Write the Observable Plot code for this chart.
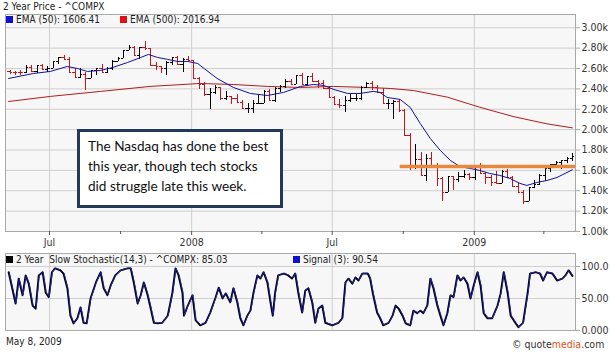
<!DOCTYPE html>
<html><head><meta charset="utf-8">
<script src="https://cdn.jsdelivr.net/npm/d3@7"></script>
<script src="https://cdn.jsdelivr.net/npm/@observablehq/plot@0.6"></script>
<style>
body{margin:0;background:#fff;}
#wrap{position:relative;width:610px;height:355px;overflow:hidden;font-family:"DejaVu Sans Condensed","DejaVu Sans",sans-serif;font-size:10px;color:#222;}
.abs{position:absolute;white-space:nowrap;line-height:12px;}
.sq{display:inline-block;width:7px;height:7px;margin-right:3px;vertical-align:0px;}
#note{position:absolute;left:77px;top:129px;border:3px solid #22395c;background:#fff;white-space:nowrap;
 font-family:Lato,"Open Sans",sans-serif;font-size:13.6px;line-height:20px;color:#111;padding:4px 0 0 8px;box-sizing:border-box;width:206px;height:79px;}
</style></head><body><div id="wrap"></div>
<script>
// ---------- data ----------
const firstWeek = "2007-05-11"; // weekly bars, one per week to 2009-05-08
const opens = [2572,2562,2558,2557,2613,2573,2626,2588,2603,2666,2707,2688,2562,2511,2544,2505,2576,2596,2565,2602,2671,2701,2780,2805,2726,2804,2795,2627,2618,2596,2661,2706,2636,2691,
 2674,2504,2440,2340,2360,2413,2304,2321,2303,2271,2212,2212,2258,2261,2370,2290,2403,2423,2476,2445,2528,2444,2523,2474,2454,2406,2316,2245,2239,2283,2310,2310,2414,2453,2415,2368,2255,2261,2273,2183,1947,1649,1711,1552,1721,1647,1516,1384,1536,1509,1540,1564,
 1530,1632,1571,1530,1477,1476,1591,1534,1441,1378,1293,1431,1457,1545,1622,1653,1673,1694,1719];
const highs = [2585,2568,2582,2626,2627,2630,2643,2620,2672,2712,2724,2710,2600,2600,2560,2580,2600,2640,2610,2680,2710,2780,2830,2820,2810,2861,2800,2660,2620,2670,2710,2720,2700,2720,
 2680,2510,2460,2400,2430,2415,2370,2330,2345,2290,2260,2290,2340,2380,2390,2410,2430,2490,2490,2530,2551,2525,2550,2480,2480,2420,2330,2300,2330,2340,2340,2420,2460,2470,2430,2400,2300,2290,2300,2200,1960,1850,1780,1760,1780,1670,1530,1540,1540,1580,1600,1570,
 1635,1670,1580,1550,1590,1600,1610,1540,1470,1400,1435,1500,1560,1625,1660,1690,1700,1730,1770];
const lows = [2540,2530,2535,2555,2560,2550,2588,2560,2600,2640,2680,2560,2508,2500,2386,2500,2530,2560,2550,2580,2670,2700,2775,2720,2690,2780,2620,2580,2550,2530,2630,2630,2560,2670,
 2500,2390,2330,2202,2340,2290,2290,2250,2270,2200,2160,2155,2250,2260,2280,2270,2360,2400,2430,2440,2440,2430,2460,2400,2400,2310,2240,2210,2167,2270,2280,2290,2400,2380,2360,2250,2200,2100,2170,1940,1595,1610,1540,1490,1620,1440,1295,1380,1400,1480,1520,1500,
 1500,1570,1460,1440,1470,1470,1520,1440,1370,1265,1290,1420,1450,1490,1580,1620,1610,1670,1690];
const closes = [2562,2558,2557,2613,2573,2626,2588,2603,2666,2707,2688,2562,2511,2544,2505,2576,2596,2565,2602,2671,2701,2780,2805,2726,2804,2795,2627,2618,2596,2661,2706,2636,2691,2674,
 2504,2440,2340,2360,2413,2304,2321,2303,2271,2212,2212,2258,2261,2370,2290,2403,2423,2476,2445,2528,2444,2523,2474,2454,2406,2316,2245,2239,2283,2310,2310,2414,2453,2415,2368,2255,2261,2273,2183,1947,1649,1711,1552,1721,1647,1516,1384,1536,1509,1540,1564,1530,
 1632,1571,1530,1477,1476,1591,1534,1441,1378,1293,1431,1457,1545,1622,1653,1673,1694,1719,1739];

const ema50Dates = ["2007-05-09","2007-06-10","2007-07-02","2007-07-24","2007-08-06","2007-08-19","2007-09-05","2007-09-21","2007-10-10","2007-10-27","2007-11-06","2007-11-18","2007-12-01","2007-12-14","2007-12-27","2008-01-09","2008-01-12","2008-02-03","2008-02-24","2008-03-17","2008-04-08","2008-04-29","2008-05-21","2008-06-07","2008-06-20","2008-07-03","2008-07-21","2008-08-06","2008-08-23","2008-09-01","2008-09-10","2008-09-27","2008-10-10","2008-10-23","2008-11-05","2008-11-18","2008-12-01","2008-12-14","2008-12-27","2009-01-08","2009-01-21","2009-02-03","2009-02-16","2009-03-01","2009-03-10","2009-03-23","2009-04-05","2009-04-18","2009-05-08"];
const ema50 = [2502,2551,2571,2620,2600,2571,2581,2610,2659,2708,2738,2708,2689,2669,2669,2649,2630,2502,2414,2355,2335,2365,2424,2443,2434,2394,2355,2355,2375,2365,2316,2296,2218,2060,1913,1795,1697,1635,1619,1599,1570,1550,1521,1472,1452,1481,1501,1530,1606];

const ema500Dates = ["2007-05-09","2007-07-02","2007-09-05","2007-11-08","2008-01-12","2008-02-24","2008-04-08","2008-05-21","2008-07-03","2008-08-15","2008-09-14","2008-10-14","2008-11-27","2009-01-08","2009-02-20","2009-04-05","2009-05-08"];
const ema500 = [2276,2326,2375,2424,2453,2443,2424,2414,2424,2414,2404,2384,2319,2220,2129,2057,2017];

const stochDates = ["2007-05-09","2007-05-18","2007-05-22","2007-05-27","2007-05-31","2007-06-04","2007-06-09","2007-06-13","2007-06-17","2007-06-22","2007-06-26","2007-06-30","2007-07-04","2007-07-08","2007-07-15","2007-07-19","2007-07-24","2007-07-28","2007-08-01","2007-08-06","2007-08-10","2007-08-14","2007-08-18","2007-08-23","2007-08-30","2007-09-05","2007-09-09","2007-09-14","2007-09-18","2007-09-24","2007-10-01","2007-10-10","2007-10-14","2007-10-18","2007-10-23","2007-10-27","2007-10-31","2007-11-05","2007-11-09","2007-11-13","2007-11-18","2007-11-24","2007-12-01","2007-12-07","2007-12-11","2007-12-15","2007-12-20","2007-12-22","2007-12-27","2008-01-02","2008-01-06","2008-01-12","2008-01-19","2008-01-25","2008-02-01","2008-02-05","2008-02-10","2008-02-14","2008-02-20","2008-02-24","2008-02-29","2008-03-04","2008-03-08","2008-03-13","2008-03-17","2008-03-21","2008-03-26","2008-03-30","2008-04-03","2008-04-08","2008-04-12","2008-04-15","2008-04-18","2008-04-22","2008-04-29","2008-05-05","2008-05-10","2008-05-14","2008-05-18","2008-05-23","2008-05-27","2008-05-31","2008-06-05","2008-06-09","2008-06-13","2008-06-18","2008-06-22","2008-07-01","2008-07-09","2008-07-14","2008-07-18","2008-07-22","2008-07-27","2008-07-31","2008-08-04","2008-08-09","2008-08-16","2008-08-19","2008-08-23","2008-08-28","2008-09-01","2008-09-05","2008-09-12","2008-09-17","2008-09-21","2008-09-25","2008-09-30","2008-10-04","2008-10-10","2008-10-14","2008-10-19","2008-10-23","2008-10-27","2008-11-01","2008-11-05","2008-11-09","2008-11-14","2008-11-18","2008-11-22","2008-11-27","2008-12-01","2008-12-05","2008-12-10","2008-12-14","2008-12-18","2008-12-23","2008-12-27","2008-12-31","2009-01-05","2009-01-09","2009-01-13","2009-01-18","2009-01-24","2009-01-31","2009-02-04","2009-02-08","2009-02-13","2009-02-17","2009-02-23","2009-02-27","2009-03-05","2009-03-11","2009-03-14","2009-03-21","2009-03-27","2009-03-31","2009-04-05","2009-04-12","2009-04-18","2009-04-25","2009-04-29","2009-05-03","2009-05-08"];
const stoch = [91,42,81,55,86,73,39,34,86,91,59,52,91,97,94,89,66,23,11,19,36,12,11,50,75,91,66,55,70,86,94,97,97,75,42,55,75,55,34,12,11,12,23,59,97,86,59,23,39,55,16,8,12,28,52,67,50,58,44,66,44,19,8,23,31,59,86,81,91,75,44,23,59,86,89,86,81,89,59,28,62,66,44,12,34,39,12,8,12,19,75,81,73,83,78,89,89,81,55,28,19,8,12,23,39,34,23,11,8,31,27,31,27,39,81,66,39,23,8,27,55,52,86,78,83,73,50,70,91,70,27,19,19,39,58,91,59,23,12,5,12,59,89,91,89,78,91,89,78,81,86,94,85];

const priceTicks = [1000,1200,1400,1600,1800,2000,2200,2400,2600,2800,3000];
const stochTicks = [0,50,100];
const stochTickLabels = ["0.000","50.00","100.0"];
const majorTickDates = ["2007-07-01","2008-01-01","2008-07-01","2009-01-01"];
const majorTickLabels = ["Jul","2008","Jul","2009"];
const minorTickDates = ["2007-10-01","2008-04-01","2008-10-01","2009-04-01"];
const xDomain = ["2007-05-05","2009-05-12"];
const resistanceLevel = 1637;
const resistanceFrom = "2008-09-27";

// ---------- build ----------
const P = s => new Date(s + "T00:00:00Z");
const week0 = P(firstWeek);
const bars = closes.map((c, i) => ({date: d3.utcDay.offset(week0, 7 * i), open: opens[i], high: highs[i], low: lows[i], close: c}));
const e50 = ema50.map((v, i) => ({date: P(ema50Dates[i]), v}));
const e500 = ema500.map((v, i) => ({date: P(ema500Dates[i]), v}));
const st = stoch.map((v, i) => ({date: P(stochDates[i]), v}));
const majors = majorTickDates.map(P), minors = minorTickDates.map(P);
const dom = xDomain.map(P);

const FONT = '"DejaVu Sans Condensed","DejaVu Sans",sans-serif';
const BG = "#f7f7f7", GRID = "#cfcfcf", FRAME = "#a8a8a8";
const barColor = d => d.close >= d.open ? "#000" : "#c4161c";

const topChart = Plot.plot({
  width: 610, height: 250,
  marginLeft: 5, marginRight: 35, marginTop: 14, marginBottom: 19,
  style: {fontFamily: FONT, fontSize: "10.5px", color: "#333", background: "transparent", overflow: "visible"},
  x: {type: "utc", domain: dom, axis: null},
  y: {domain: [1000, 3130], axis: null},
  marks: [
    Plot.frame({fill: BG}),
    Plot.gridY(priceTicks, {stroke: GRID, strokeOpacity: 1}),
    Plot.gridX(majors, {stroke: GRID, strokeOpacity: 1}),
    Plot.line(e500, {x: "date", y: "v", stroke: "#b31b1b", strokeWidth: 1}),
    Plot.ruleX(bars, {x: "date", y1: "low", y2: "high", stroke: barColor, shapeRendering: "crispEdges"}),
    Plot.ruleY(bars, {x1: d => d3.utcDay.offset(d.date, -3), x2: "date", y: "open", stroke: barColor, shapeRendering: "crispEdges"}),
    Plot.ruleY(bars, {x1: "date", x2: d => d3.utcDay.offset(d.date, 3), y: "close", stroke: barColor, shapeRendering: "crispEdges"}),
    Plot.line(e50, {x: "date", y: "v", stroke: "#1010a0", strokeWidth: 1}),
    Plot.ruleY([resistanceLevel], {x1: P(resistanceFrom), x2: dom[1], stroke: "#e8883a", strokeWidth: 3.5}),
    Plot.frame({stroke: FRAME}),
    Plot.axisY(priceTicks, {anchor: "right", tickSize: 4, tickPadding: 2, stroke: FRAME, tickFormat: d => (d / 1000).toFixed(2) + "k", label: null}),
    Plot.axisX(majors, {tickSize: 4, tickPadding: 3, stroke: "#555", tickFormat: (d, i) => majorTickLabels[i], label: null}),
    Plot.axisX(minors, {tickSize: 3, stroke: "#555", tickFormat: () => "", label: null})
  ]
});

const botChart = Plot.plot({
  width: 610, height: 90,
  marginLeft: 5, marginRight: 35, marginTop: 3, marginBottom: 10,
  style: {fontFamily: FONT, fontSize: "10.5px", color: "#333", background: "transparent", overflow: "visible"},
  x: {type: "utc", domain: dom, axis: null},
  y: {domain: [0, 120.3], axis: null},
  marks: [
    Plot.frame({fill: BG}),
    Plot.gridY(stochTicks, {stroke: GRID, strokeOpacity: 1}),
    Plot.gridX(majors, {stroke: GRID, strokeOpacity: 1}),
    Plot.line(st, {x: "date", y: "v", stroke: "#000", strokeWidth: 1.8}),
    Plot.line(st, {x: "date", y: "v", stroke: "#2222a8", strokeWidth: 1, dx: 0.6, dy: -0.4}),
    Plot.frame({stroke: FRAME}),
    Plot.axisY(stochTicks, {anchor: "right", tickSize: 4, tickPadding: 2, stroke: FRAME, tickFormat: (d, i) => stochTickLabels[i], label: null})
  ]
});

const wrap = document.getElementById("wrap");
for (const [svg, t] of [[topChart, 0], [botChart, 250]]) {
  svg.style.position = "absolute"; svg.style.left = "0px"; svg.style.top = t + "px";
  wrap.appendChild(svg);
}
function addText(html, x, y, extra) {
  const d = document.createElement("div");
  d.className = "abs"; d.style.left = x + "px"; d.style.top = y + "px";
  if (extra) Object.assign(d.style, extra);
  d.innerHTML = html; wrap.appendChild(d); return d;
}
addText("2 Year Price - ^COMPX", 3, 1);
addText('<span class="sq" style="background:#1010d0"></span>EMA (50): 1606.41', 6, 14);
addText('<span class="sq" style="background:#e01010"></span>EMA (500): 2016.94', 120, 14);
addText('<span class="sq" style="background:#000"></span>2 Year&nbsp; Slow Stochastic(14,3) - ^COMPX: 85.03', 6, 254);
addText('<span class="sq" style="background:#1010d0"></span>Signal (3): 90.54', 293, 254);
addText("May 8, 2009", 6, 336);
addText('<span>&#169;</span> quote<span style="color:#e2541b">media</span>.com', 512, 338, {fontSize: "10.5px", color: "#333"});
const note = document.createElement("div");
note.id = "note";
note.innerHTML = "The Nasdaq has done the best<br>this year, though tech stocks<br>did struggle late this week.";
wrap.appendChild(note);
</script></body></html>
